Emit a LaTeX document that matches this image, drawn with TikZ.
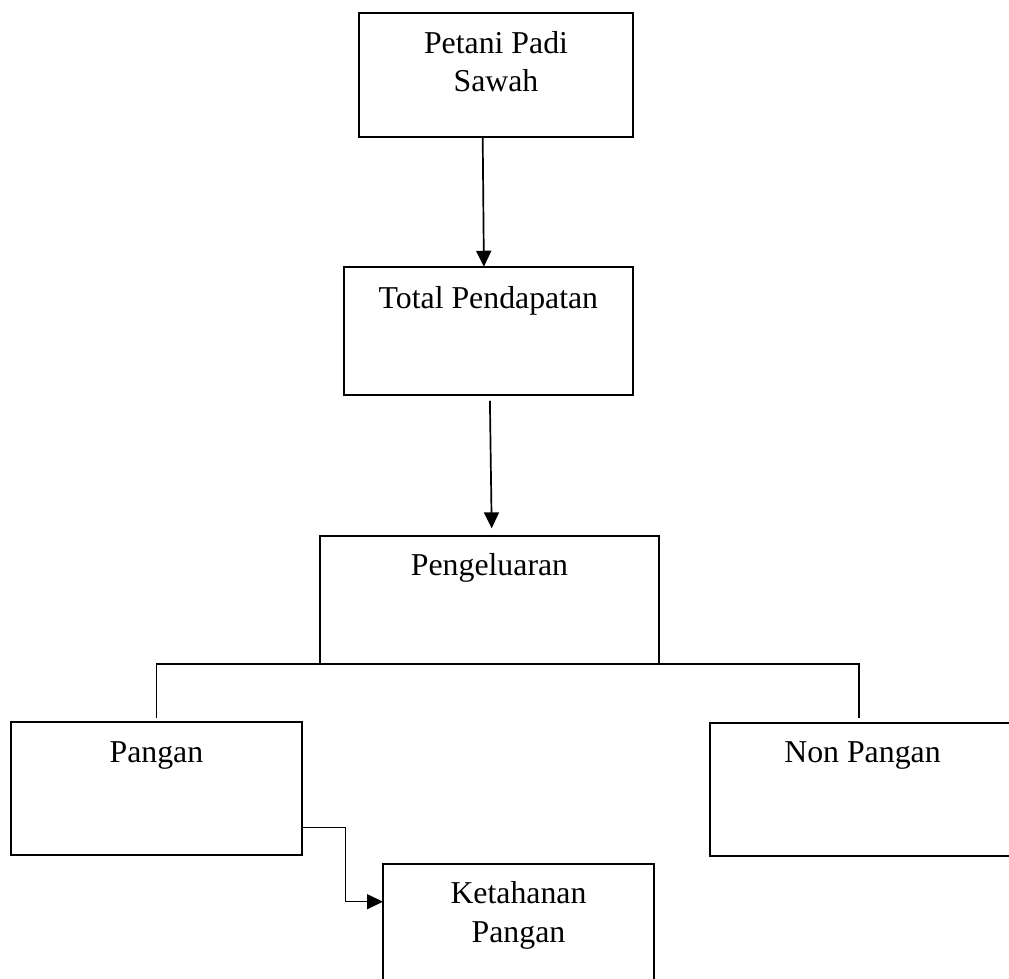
\documentclass[tikz,border=0pt]{standalone}
\usepackage{fontspec}
\setmainfont{Liberation Serif}
\usetikzlibrary{arrows.meta}

\begin{document}
\begin{tikzpicture}[x=1pt,y=1pt]
\tikzstyle{every node}+=[inner sep=0pt, outer sep=0pt]
\tikzstyle{box}=[draw=black, line width=2pt, minimum width=#1]
\tikzstyle{caption}=[anchor=base, align=center, font=\fontsize{31.8}{38.5}\selectfont]
\tikzstyle{arrow}=[draw=black, line width=1.7pt, -{Triangle[length=16pt,width=15pt]}]
\tikzstyle{branch}=[draw=black, line width=1.4pt]
\useasboundingbox (0,0) rectangle (1009,-978);
\clip (0,0) rectangle (1009,-978);
% boxes
\node [box=274pt, minimum height=124.3pt] (petani) at (496,-74.9) {};
\node [caption] (petanitext) at ([yshift=-79.1pt]petani.north) {Petani Padi\\Sawah};
\node [box=288.7pt, minimum height=128.3pt] (total) at (488.4,-330.9) {};
\node [caption] (totaltext) at ([yshift=-41.6pt]total.north) {Total Pendapatan};
\node [box=339pt, minimum height=128.3pt] (pengeluaran) at (489.5,-599.9) {};
\node [caption] (pengeluarantext) at ([yshift=-39.3pt]pengeluaran.north) {Pengeluaran};
\node [box=290.7pt, minimum height=133pt] (pangan) at (156.4,-788.5) {};
\node [caption] (pangantext) at ([yshift=-40.7pt]pangan.north) {Pangan};
\node [box=305pt, minimum height=133pt] (nonpangan) at (862.5,-789.5) {};
\node [caption] (nonpangantext) at ([yshift=-39.7pt]nonpangan.north) {Non Pangan};
\node [box=271pt, minimum height=140pt] (ketahanan) at (518.5,-934) {};
\node [caption] (ketahanantext) at ([yshift=-78.2pt]ketahanan.north) {Ketahanan\\Pangan};
% connectors
\draw [arrow] ([xshift=-13.3pt]petani.south) -- ([xshift=-4.5pt]total.north);
\draw [arrow] ([xshift=1.5pt,yshift=-5.7pt]total.south) -- ([xshift=2.2pt,yshift=7.4pt]pengeluaran.north);
\draw [branch] ([yshift=3.7pt]pangan.north) |- (pengeluaran.south) -| ([xshift=-3.5pt,yshift=4.7pt]nonpangan.north);
\draw [arrow, line width=1.4pt] ([yshift=-39.2pt]pangan.east) -- ++(44,0) |- ([yshift=-37.7pt]ketahanan.north west);
\end{tikzpicture}
\end{document}
